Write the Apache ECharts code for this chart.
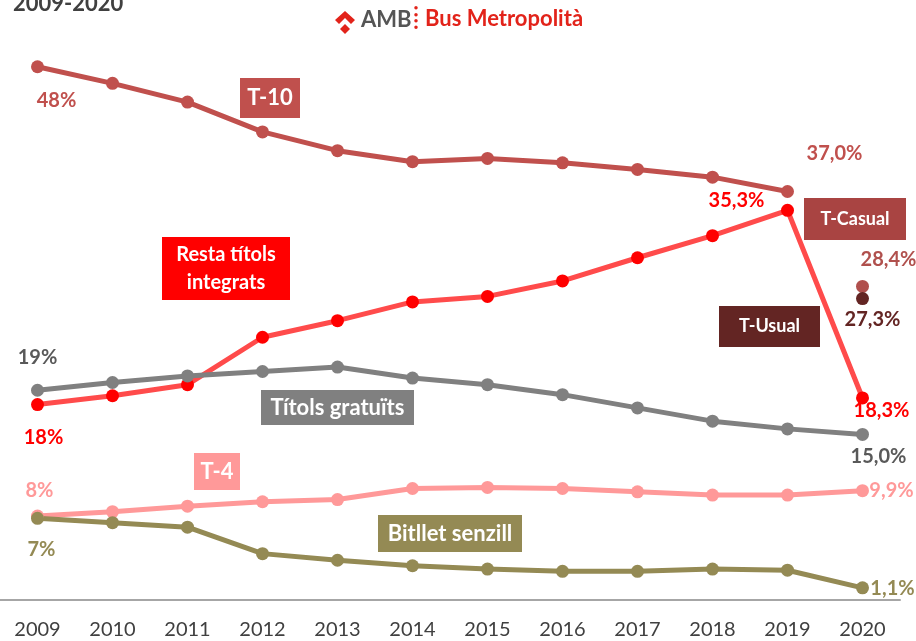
<!DOCTYPE html>
<html>
<head>
<meta charset="utf-8">
<script src="https://cdn.jsdelivr.net/npm/echarts@6/dist/echarts.min.js"></script>
<style>
    html, body { margin: 0; padding: 0; background: #fff; }
    #main { width: 916px; height: 641px; }
</style>
</head>
<body>
<div id="main"></div>
<script type="text/javascript">
    // dades llegides del gràfic (% de viatges per títol)
    var years = ['2009', '2010', '2011', '2012', '2013', '2014', '2015', '2016', '2017', '2018', '2019', '2020'];
    var t10 = [48.3, 46.8, 45.1, 42.4, 40.7, 39.7, 40.0, 39.6, 39.0, 38.3, 37.0, null];
    var resta = [17.7, 18.5, 19.5, 23.8, 25.3, 27.0, 27.5, 28.9, 31.0, 33.0, 35.3, 18.3];
    var gratuits = [19.0, 19.7, 20.3, 20.7, 21.1, 20.1, 19.5, 18.6, 17.4, 16.2, 15.5, 15.0];
    var t4 = [7.6, 8.0, 8.5, 8.9, 9.1, 10.1, 10.2, 10.1, 9.8, 9.5, 9.5, 9.9];
    var bitllet = [7.4, 7.0, 6.6, 4.2, 3.6, 3.1, 2.8, 2.6, 2.6, 2.8, 2.7, 1.1];
    var tCasual = [null, null, null, null, null, null, null, null, null, null, null, 28.4];
    var tUsual = [null, null, null, null, null, null, null, null, null, null, null, 27.3];

    var FONT = 'Lato, "Open Sans", sans-serif';

    function fmt(v, idx) {
        if (idx === 0) return Math.round(v) + '%';
        return v.toFixed(1).replace('.', ',') + '%';
    }

    // labels: {index: [dx, dy]}
    function mkData(values, labelColor, labels) {
        return values.map(function (v, i) {
            if (v == null) return null;
            if (!labels[i]) return v;
            return {
                value: v,
                label: {
                    show: true,
                    position: 'inside',
                    offset: labels[i],
                    formatter: fmt(v, i),
                    color: labelColor,
                    fontFamily: FONT,
                    fontWeight: 'bold',
                    fontSize: 20
                }
            };
        });
    }

    function mkSeries(name, values, lineColor, dotColor, labelColor, labels) {
        return {
            name: name,
            type: 'line',
            data: mkData(values, labelColor, labels),
            symbol: 'circle',
            symbolSize: 13,
            lineStyle: { color: lineColor, width: 5 },
            itemStyle: { color: dotColor },
            connectNulls: false,
            animation: false
        };
    }

    function box(x, y, w, h, color, text, size) {
        return {
            type: 'group',
            left: x, top: y,
            children: [
                { type: 'rect', shape: { x: 0, y: 0, width: w, height: h }, style: { fill: color } },
                {
                    type: 'text', x: w / 2, y: h / 2,
                    style: {
                        text: text, fill: '#fff', font: 'bold ' + size + 'px ' + FONT,
                        align: 'center', verticalAlign: 'middle', lineHeight: size + 8
                    }
                }
            ]
        };
    }

    var chart = echarts.init(document.getElementById('main'));
    var option = {
        backgroundColor: '#fff',
        grid: { left: 0, right: 16, top: 48, bottom: 41 },
        xAxis: {
            type: 'category',
            data: years,
            boundaryGap: true,
            axisLine: { lineStyle: { color: '#a6a6a6', width: 2 } },
            axisTick: { show: false },
            axisLabel: { color: '#404040', fontFamily: FONT, fontSize: 20, margin: 20 }
        },
        yAxis: { type: 'value', min: 0, max: 50, show: false, splitLine: { show: false } },
        series: [
            mkSeries('T-10', t10, '#c0504d', '#c0504d', '#c0504d', { 0: [19, 34], 10: [47, -38] }),
            mkSeries('Resta títols integrats', resta, '#ff4b4b', '#ff0000', '#ff0000', { 0: [6, 33], 10: [-51, -10], 11: [19, 13] }),
            mkSeries('Títols gratuïts', gratuits, '#808080', '#808080', '#595959', { 0: [0, -33], 11: [16, 22] }),
            mkSeries('T-4', t4, '#ff9999', '#ff9999', '#ff9999', { 0: [2, -26], 11: [29, 0] }),
            mkSeries('Bitllet senzill', bitllet, '#948a54', '#948a54', '#948a54', { 0: [4, 31], 11: [30, 1] }),
            mkSeries('T-Casual', tCasual, '#b0504d', '#b0504d', '#b0504d', { 11: [26, -27] }),
            mkSeries('T-Usual', tUsual, '#632523', '#632523', '#632523', { 11: [10, 21] })
        ],
        graphic: [
            {
                type: 'text', left: 13, top: -7,
                style: { text: '2009-2020', fill: '#404040', font: 'bold 22px ' + FONT }
            },
            // logo AMB Bus Metropolità
            {
                type: 'polygon',
                shape: { points: [[335, 20], [345, 11], [355, 20], [351, 24], [345, 18], [339, 24]] },
                style: { fill: '#e2231a' }
            },
            {
                type: 'polygon',
                shape: { points: [[345, 24], [350, 29], [345, 34], [340, 29]] },
                style: { fill: '#e2231a' }
            },
            {
                type: 'text', left: 361, top: 9,
                style: { text: 'AMB', fill: '#555', font: 'bold 22px ' + FONT }
            },
            {
                type: 'text', left: 413, top: 7,
                style: { text: '⁞', fill: '#e2231a', font: 'bold 22px ' + FONT }
            },
            {
                type: 'text', left: 425, top: 8,
                style: { text: 'Bus Metropolità', fill: '#e2231a', font: 'bold 22px ' + FONT }
            },
            box(240, 78, 60, 40, '#c0504d', 'T-10', 22),
            box(804, 198, 102, 42, '#a94442', 'T-Casual', 18),
            box(162, 237, 128, 63, '#ff0000', 'Resta títols\nintegrats', 20),
            box(719, 306, 101, 41, '#632523', 'T-Usual', 18),
            box(261, 390, 153, 35, '#808080', 'Títols gratuïts', 22),
            box(194, 453, 46, 37, '#ff9999', 'T-4', 22),
            box(378, 515, 144, 37, '#948a54', 'Bitllet senzill', 22)
        ]
    };
    chart.setOption(option);
</script>
</body>
</html>
